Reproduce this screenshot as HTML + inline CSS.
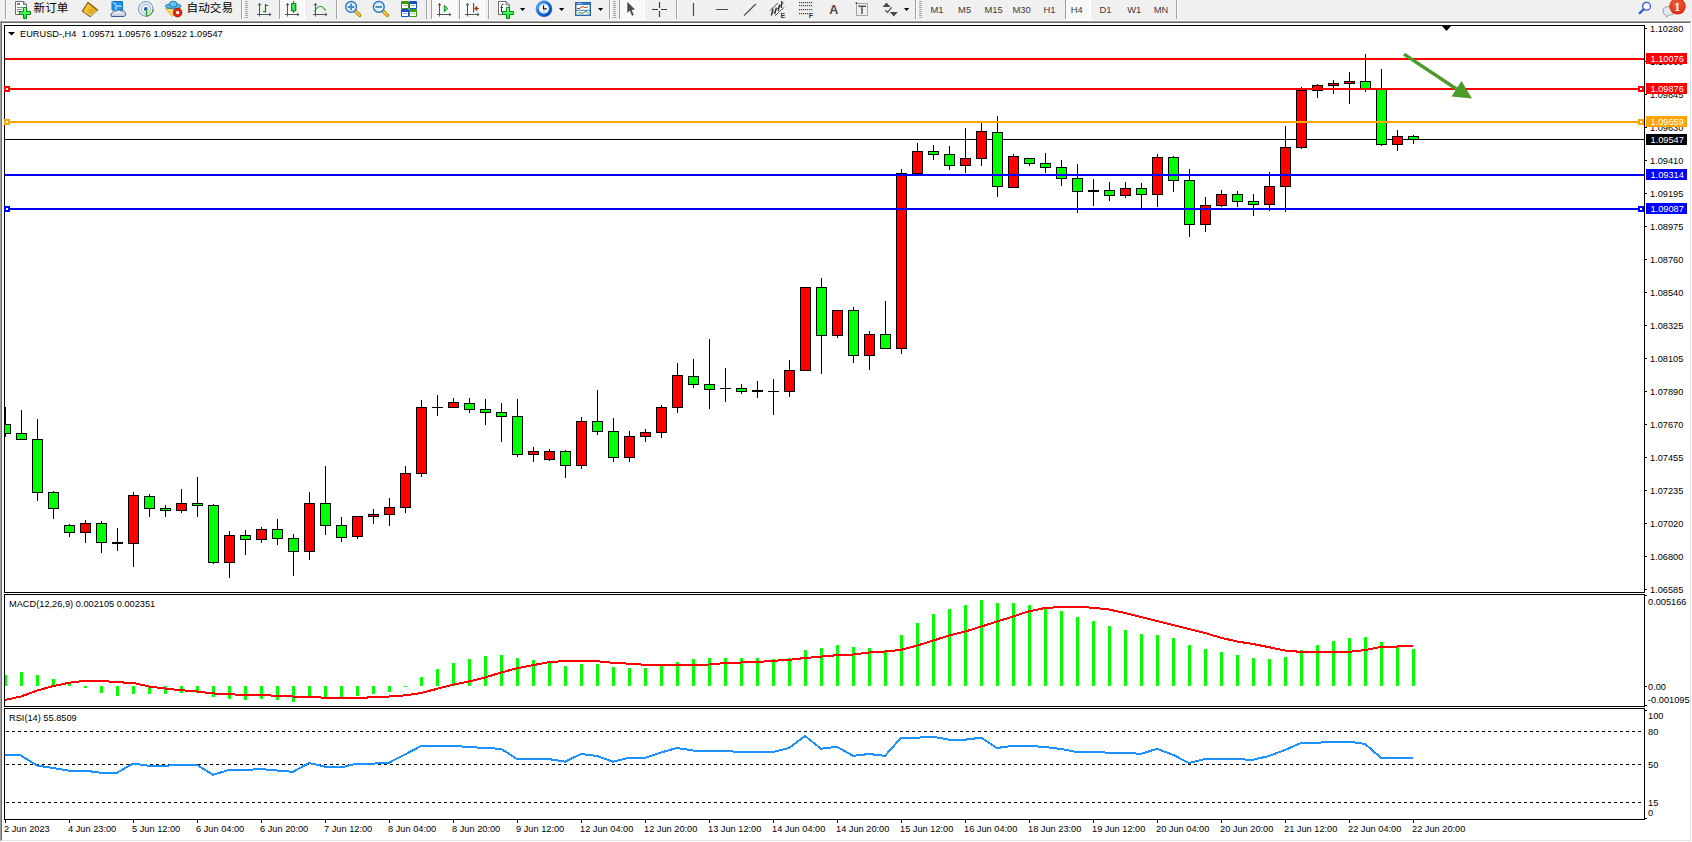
<!DOCTYPE html><html><head><meta charset="utf-8"><title>EURUSD-,H4</title><style>
html,body{margin:0;padding:0;width:1692px;height:842px;overflow:hidden;background:#f0f0f0}
svg{display:block}
.t{font-family:'Liberation Sans', Arial, sans-serif;font-size:9.9px;fill:#000}
.w{font-family:'Liberation Sans', Arial, sans-serif;font-size:9.9px;fill:#fff}
.tf{font-family:'Liberation Sans', Arial, sans-serif;font-size:9.4px;fill:#3a3a3a}
.cj{font-family:'Liberation Sans','Noto Sans CJK SC','WenQuanYi Zen Hei',sans-serif;font-size:11.6px;fill:#000}
</style></head><body>
<svg width="1692" height="842" viewBox="0 0 1692 842">
<g shape-rendering="crispEdges"><rect x="0" y="0" width="1692" height="842" fill="#f0f0f0"/><rect x="2" y="23" width="1688" height="817" fill="#fff"/><rect x="0" y="21" width="1691" height="1" fill="#a0a0a0"/><rect x="1" y="22" width="1689" height="1" fill="#696969"/><rect x="0" y="21" width="1" height="820" fill="#a0a0a0"/><rect x="1" y="22" width="1" height="818" fill="#696969"/><rect x="1690" y="22" width="1" height="819" fill="#e3e3e3"/><rect x="1" y="840" width="1690" height="1" fill="#e3e3e3"/><rect x="1691" y="21" width="1" height="821" fill="#fff"/><rect x="0" y="841" width="1692" height="1" fill="#fff"/><rect x="0" y="20" width="1691" height="1" fill="#f8f8f8"/></g>
<g shape-rendering="crispEdges"><rect x="4" y="25" width="1641" height="1" fill="#000"/><rect x="4" y="592" width="1641" height="1" fill="#000"/><rect x="4" y="25" width="1" height="568" fill="#000"/><rect x="1644" y="25" width="1" height="568" fill="#000"/><rect x="4" y="594" width="1641" height="1" fill="#000"/><rect x="4" y="706" width="1641" height="1" fill="#000"/><rect x="4" y="594" width="1" height="113" fill="#000"/><rect x="1644" y="594" width="1" height="113" fill="#000"/><rect x="4" y="708" width="1641" height="1" fill="#000"/><rect x="4" y="819" width="1641" height="1" fill="#000"/><rect x="4" y="708" width="1" height="112" fill="#000"/><rect x="1644" y="708" width="1" height="112" fill="#000"/><rect x="1645" y="28" width="2" height="1" fill="#000"/><rect x="1645" y="61" width="2" height="1" fill="#000"/><rect x="1645" y="94" width="2" height="1" fill="#000"/><rect x="1645" y="127" width="2" height="1" fill="#000"/><rect x="1645" y="160" width="2" height="1" fill="#000"/><rect x="1645" y="193" width="2" height="1" fill="#000"/><rect x="1645" y="226" width="2" height="1" fill="#000"/><rect x="1645" y="259" width="2" height="1" fill="#000"/><rect x="1645" y="292" width="2" height="1" fill="#000"/><rect x="1645" y="325" width="2" height="1" fill="#000"/><rect x="1645" y="358" width="2" height="1" fill="#000"/><rect x="1645" y="391" width="2" height="1" fill="#000"/><rect x="1645" y="424" width="2" height="1" fill="#000"/><rect x="1645" y="457" width="2" height="1" fill="#000"/><rect x="1645" y="490" width="2" height="1" fill="#000"/><rect x="1645" y="523" width="2" height="1" fill="#000"/><rect x="1645" y="556" width="2" height="1" fill="#000"/><rect x="1645" y="589" width="2" height="1" fill="#000"/><rect x="1645" y="686" width="2" height="1" fill="#000"/><rect x="1645" y="595" width="2" height="1" fill="#000"/><rect x="1645" y="705" width="2" height="1" fill="#000"/><rect x="1645" y="710" width="2" height="1" fill="#000"/><rect x="1645" y="818" width="2" height="1" fill="#000"/><rect x="5" y="820" width="1" height="3" fill="#000"/><rect x="69" y="820" width="1" height="3" fill="#000"/><rect x="133" y="820" width="1" height="3" fill="#000"/><rect x="197" y="820" width="1" height="3" fill="#000"/><rect x="261" y="820" width="1" height="3" fill="#000"/><rect x="325" y="820" width="1" height="3" fill="#000"/><rect x="389" y="820" width="1" height="3" fill="#000"/><rect x="453" y="820" width="1" height="3" fill="#000"/><rect x="517" y="820" width="1" height="3" fill="#000"/><rect x="581" y="820" width="1" height="3" fill="#000"/><rect x="645" y="820" width="1" height="3" fill="#000"/><rect x="709" y="820" width="1" height="3" fill="#000"/><rect x="773" y="820" width="1" height="3" fill="#000"/><rect x="837" y="820" width="1" height="3" fill="#000"/><rect x="901" y="820" width="1" height="3" fill="#000"/><rect x="965" y="820" width="1" height="3" fill="#000"/><rect x="1029" y="820" width="1" height="3" fill="#000"/><rect x="1093" y="820" width="1" height="3" fill="#000"/><rect x="1157" y="820" width="1" height="3" fill="#000"/><rect x="1221" y="820" width="1" height="3" fill="#000"/><rect x="1285" y="820" width="1" height="3" fill="#000"/><rect x="1349" y="820" width="1" height="3" fill="#000"/><rect x="1413" y="820" width="1" height="3" fill="#000"/></g>
<g shape-rendering="crispEdges"><rect x="5" y="139" width="1639" height="1" fill="#000000"/></g>
<svg x="5" y="26" width="1639" height="566" viewBox="5 26 1639 566" overflow="hidden"><g shape-rendering="crispEdges"><rect x="5" y="407" width="1" height="30" fill="#000"/><rect x="0" y="424" width="11" height="10" fill="#000"/><rect x="1" y="425" width="9" height="8" fill="#00ff00"/><rect x="21" y="410" width="1" height="30" fill="#000"/><rect x="16" y="433" width="11" height="7" fill="#000"/><rect x="17" y="434" width="9" height="5" fill="#00ff00"/><rect x="37" y="419" width="1" height="82" fill="#000"/><rect x="32" y="439" width="11" height="54" fill="#000"/><rect x="33" y="440" width="9" height="52" fill="#00ff00"/><rect x="53" y="491" width="1" height="28" fill="#000"/><rect x="48" y="492" width="11" height="17" fill="#000"/><rect x="49" y="493" width="9" height="15" fill="#00ff00"/><rect x="69" y="524" width="1" height="13" fill="#000"/><rect x="64" y="525" width="11" height="8" fill="#000"/><rect x="65" y="526" width="9" height="6" fill="#00ff00"/><rect x="85" y="520" width="1" height="23" fill="#000"/><rect x="80" y="523" width="11" height="10" fill="#000"/><rect x="81" y="524" width="9" height="8" fill="#ff0000"/><rect x="101" y="521" width="1" height="32" fill="#000"/><rect x="96" y="523" width="11" height="20" fill="#000"/><rect x="97" y="524" width="9" height="18" fill="#00ff00"/><rect x="117" y="528" width="1" height="23" fill="#000"/><rect x="112" y="542" width="11" height="2" fill="#000"/><rect x="133" y="492" width="1" height="75" fill="#000"/><rect x="128" y="495" width="11" height="49" fill="#000"/><rect x="129" y="496" width="9" height="47" fill="#ff0000"/><rect x="149" y="494" width="1" height="23" fill="#000"/><rect x="144" y="496" width="11" height="13" fill="#000"/><rect x="145" y="497" width="9" height="11" fill="#00ff00"/><rect x="165" y="505" width="1" height="12" fill="#000"/><rect x="160" y="508" width="11" height="3" fill="#000"/><rect x="161" y="509" width="9" height="1" fill="#00ff00"/><rect x="181" y="489" width="1" height="24" fill="#000"/><rect x="176" y="503" width="11" height="8" fill="#000"/><rect x="177" y="504" width="9" height="6" fill="#ff0000"/><rect x="197" y="477" width="1" height="40" fill="#000"/><rect x="192" y="503" width="11" height="3" fill="#000"/><rect x="193" y="504" width="9" height="1" fill="#00ff00"/><rect x="213" y="504" width="1" height="60" fill="#000"/><rect x="208" y="505" width="11" height="58" fill="#000"/><rect x="209" y="506" width="9" height="56" fill="#00ff00"/><rect x="229" y="531" width="1" height="47" fill="#000"/><rect x="224" y="535" width="11" height="28" fill="#000"/><rect x="225" y="536" width="9" height="26" fill="#ff0000"/><rect x="245" y="530" width="1" height="25" fill="#000"/><rect x="240" y="535" width="11" height="5" fill="#000"/><rect x="241" y="536" width="9" height="3" fill="#00ff00"/><rect x="261" y="527" width="1" height="16" fill="#000"/><rect x="256" y="529" width="11" height="11" fill="#000"/><rect x="257" y="530" width="9" height="9" fill="#ff0000"/><rect x="277" y="519" width="1" height="26" fill="#000"/><rect x="272" y="529" width="11" height="10" fill="#000"/><rect x="273" y="530" width="9" height="8" fill="#00ff00"/><rect x="293" y="534" width="1" height="42" fill="#000"/><rect x="288" y="538" width="11" height="14" fill="#000"/><rect x="289" y="539" width="9" height="12" fill="#00ff00"/><rect x="309" y="492" width="1" height="68" fill="#000"/><rect x="304" y="503" width="11" height="49" fill="#000"/><rect x="305" y="504" width="9" height="47" fill="#ff0000"/><rect x="325" y="466" width="1" height="69" fill="#000"/><rect x="320" y="503" width="11" height="23" fill="#000"/><rect x="321" y="504" width="9" height="21" fill="#00ff00"/><rect x="341" y="517" width="1" height="25" fill="#000"/><rect x="336" y="525" width="11" height="13" fill="#000"/><rect x="337" y="526" width="9" height="11" fill="#00ff00"/><rect x="357" y="516" width="1" height="23" fill="#000"/><rect x="352" y="516" width="11" height="21" fill="#000"/><rect x="353" y="517" width="9" height="19" fill="#ff0000"/><rect x="373" y="509" width="1" height="15" fill="#000"/><rect x="368" y="514" width="11" height="3" fill="#000"/><rect x="369" y="515" width="9" height="1" fill="#ff0000"/><rect x="389" y="498" width="1" height="28" fill="#000"/><rect x="384" y="507" width="11" height="8" fill="#000"/><rect x="385" y="508" width="9" height="6" fill="#ff0000"/><rect x="405" y="466" width="1" height="47" fill="#000"/><rect x="400" y="473" width="11" height="35" fill="#000"/><rect x="401" y="474" width="9" height="33" fill="#ff0000"/><rect x="421" y="400" width="1" height="77" fill="#000"/><rect x="416" y="407" width="11" height="67" fill="#000"/><rect x="417" y="408" width="9" height="65" fill="#ff0000"/><rect x="437" y="395" width="1" height="21" fill="#000"/><rect x="432" y="407" width="11" height="1" fill="#000"/><rect x="453" y="398" width="1" height="10" fill="#000"/><rect x="448" y="402" width="11" height="6" fill="#000"/><rect x="449" y="403" width="9" height="4" fill="#ff0000"/><rect x="469" y="398" width="1" height="15" fill="#000"/><rect x="464" y="403" width="11" height="7" fill="#000"/><rect x="465" y="404" width="9" height="5" fill="#00ff00"/><rect x="485" y="399" width="1" height="26" fill="#000"/><rect x="480" y="409" width="11" height="4" fill="#000"/><rect x="481" y="410" width="9" height="2" fill="#00ff00"/><rect x="501" y="403" width="1" height="39" fill="#000"/><rect x="496" y="412" width="11" height="5" fill="#000"/><rect x="497" y="413" width="9" height="3" fill="#00ff00"/><rect x="517" y="399" width="1" height="58" fill="#000"/><rect x="512" y="416" width="11" height="39" fill="#000"/><rect x="513" y="417" width="9" height="37" fill="#00ff00"/><rect x="533" y="447" width="1" height="15" fill="#000"/><rect x="528" y="451" width="11" height="4" fill="#000"/><rect x="529" y="452" width="9" height="2" fill="#ff0000"/><rect x="549" y="449" width="1" height="12" fill="#000"/><rect x="544" y="451" width="11" height="9" fill="#000"/><rect x="545" y="452" width="9" height="7" fill="#ff0000"/><rect x="565" y="450" width="1" height="28" fill="#000"/><rect x="560" y="451" width="11" height="15" fill="#000"/><rect x="561" y="452" width="9" height="13" fill="#00ff00"/><rect x="581" y="417" width="1" height="52" fill="#000"/><rect x="576" y="421" width="11" height="45" fill="#000"/><rect x="577" y="422" width="9" height="43" fill="#ff0000"/><rect x="597" y="390" width="1" height="45" fill="#000"/><rect x="592" y="421" width="11" height="11" fill="#000"/><rect x="593" y="422" width="9" height="9" fill="#00ff00"/><rect x="613" y="418" width="1" height="44" fill="#000"/><rect x="608" y="431" width="11" height="27" fill="#000"/><rect x="609" y="432" width="9" height="25" fill="#00ff00"/><rect x="629" y="431" width="1" height="31" fill="#000"/><rect x="624" y="436" width="11" height="22" fill="#000"/><rect x="625" y="437" width="9" height="20" fill="#ff0000"/><rect x="645" y="429" width="1" height="13" fill="#000"/><rect x="640" y="432" width="11" height="5" fill="#000"/><rect x="641" y="433" width="9" height="3" fill="#ff0000"/><rect x="661" y="405" width="1" height="33" fill="#000"/><rect x="656" y="407" width="11" height="26" fill="#000"/><rect x="657" y="408" width="9" height="24" fill="#ff0000"/><rect x="677" y="363" width="1" height="50" fill="#000"/><rect x="672" y="375" width="11" height="33" fill="#000"/><rect x="673" y="376" width="9" height="31" fill="#ff0000"/><rect x="693" y="359" width="1" height="29" fill="#000"/><rect x="688" y="376" width="11" height="9" fill="#000"/><rect x="689" y="377" width="9" height="7" fill="#00ff00"/><rect x="709" y="339" width="1" height="70" fill="#000"/><rect x="704" y="384" width="11" height="6" fill="#000"/><rect x="705" y="385" width="9" height="4" fill="#00ff00"/><rect x="725" y="368" width="1" height="34" fill="#000"/><rect x="720" y="388" width="11" height="1" fill="#000"/><rect x="741" y="384" width="1" height="10" fill="#000"/><rect x="736" y="388" width="11" height="4" fill="#000"/><rect x="737" y="389" width="9" height="2" fill="#00ff00"/><rect x="757" y="381" width="1" height="17" fill="#000"/><rect x="752" y="390" width="11" height="2" fill="#000"/><rect x="773" y="379" width="1" height="36" fill="#000"/><rect x="768" y="391" width="11" height="1" fill="#000"/><rect x="789" y="360" width="1" height="37" fill="#000"/><rect x="784" y="370" width="11" height="22" fill="#000"/><rect x="785" y="371" width="9" height="20" fill="#ff0000"/><rect x="805" y="287" width="1" height="84" fill="#000"/><rect x="800" y="287" width="11" height="84" fill="#000"/><rect x="801" y="288" width="9" height="82" fill="#ff0000"/><rect x="821" y="278" width="1" height="96" fill="#000"/><rect x="816" y="287" width="11" height="49" fill="#000"/><rect x="817" y="288" width="9" height="47" fill="#00ff00"/><rect x="837" y="310" width="1" height="28" fill="#000"/><rect x="832" y="310" width="11" height="26" fill="#000"/><rect x="833" y="311" width="9" height="24" fill="#ff0000"/><rect x="853" y="307" width="1" height="56" fill="#000"/><rect x="848" y="310" width="11" height="46" fill="#000"/><rect x="849" y="311" width="9" height="44" fill="#00ff00"/><rect x="869" y="331" width="1" height="39" fill="#000"/><rect x="864" y="334" width="11" height="22" fill="#000"/><rect x="865" y="335" width="9" height="20" fill="#ff0000"/><rect x="885" y="301" width="1" height="48" fill="#000"/><rect x="880" y="334" width="11" height="15" fill="#000"/><rect x="881" y="335" width="9" height="13" fill="#00ff00"/><rect x="901" y="169" width="1" height="185" fill="#000"/><rect x="896" y="173" width="11" height="176" fill="#000"/><rect x="897" y="174" width="9" height="174" fill="#ff0000"/><rect x="917" y="143" width="1" height="31" fill="#000"/><rect x="912" y="151" width="11" height="23" fill="#000"/><rect x="913" y="152" width="9" height="21" fill="#ff0000"/><rect x="933" y="145" width="1" height="15" fill="#000"/><rect x="928" y="151" width="11" height="4" fill="#000"/><rect x="929" y="152" width="9" height="2" fill="#00ff00"/><rect x="949" y="146" width="1" height="24" fill="#000"/><rect x="944" y="154" width="11" height="12" fill="#000"/><rect x="945" y="155" width="9" height="10" fill="#00ff00"/><rect x="965" y="128" width="1" height="45" fill="#000"/><rect x="960" y="158" width="11" height="8" fill="#000"/><rect x="961" y="159" width="9" height="6" fill="#ff0000"/><rect x="981" y="122" width="1" height="44" fill="#000"/><rect x="976" y="131" width="11" height="28" fill="#000"/><rect x="977" y="132" width="9" height="26" fill="#ff0000"/><rect x="997" y="116" width="1" height="81" fill="#000"/><rect x="992" y="132" width="11" height="55" fill="#000"/><rect x="993" y="133" width="9" height="53" fill="#00ff00"/><rect x="1013" y="154" width="1" height="34" fill="#000"/><rect x="1008" y="156" width="11" height="32" fill="#000"/><rect x="1009" y="157" width="9" height="30" fill="#ff0000"/><rect x="1029" y="158" width="1" height="8" fill="#000"/><rect x="1024" y="158" width="11" height="6" fill="#000"/><rect x="1025" y="159" width="9" height="4" fill="#00ff00"/><rect x="1045" y="153" width="1" height="20" fill="#000"/><rect x="1040" y="163" width="11" height="5" fill="#000"/><rect x="1041" y="164" width="9" height="3" fill="#00ff00"/><rect x="1061" y="160" width="1" height="26" fill="#000"/><rect x="1056" y="167" width="11" height="12" fill="#000"/><rect x="1057" y="168" width="9" height="10" fill="#00ff00"/><rect x="1077" y="164" width="1" height="49" fill="#000"/><rect x="1072" y="178" width="11" height="14" fill="#000"/><rect x="1073" y="179" width="9" height="12" fill="#00ff00"/><rect x="1093" y="179" width="1" height="27" fill="#000"/><rect x="1088" y="190" width="11" height="2" fill="#000"/><rect x="1109" y="182" width="1" height="19" fill="#000"/><rect x="1104" y="190" width="11" height="6" fill="#000"/><rect x="1105" y="191" width="9" height="4" fill="#00ff00"/><rect x="1125" y="182" width="1" height="16" fill="#000"/><rect x="1120" y="188" width="11" height="8" fill="#000"/><rect x="1121" y="189" width="9" height="6" fill="#ff0000"/><rect x="1141" y="183" width="1" height="26" fill="#000"/><rect x="1136" y="188" width="11" height="7" fill="#000"/><rect x="1137" y="189" width="9" height="5" fill="#00ff00"/><rect x="1157" y="154" width="1" height="53" fill="#000"/><rect x="1152" y="157" width="11" height="38" fill="#000"/><rect x="1153" y="158" width="9" height="36" fill="#ff0000"/><rect x="1173" y="156" width="1" height="36" fill="#000"/><rect x="1168" y="157" width="11" height="24" fill="#000"/><rect x="1169" y="158" width="9" height="22" fill="#00ff00"/><rect x="1189" y="169" width="1" height="68" fill="#000"/><rect x="1184" y="180" width="11" height="45" fill="#000"/><rect x="1185" y="181" width="9" height="43" fill="#00ff00"/><rect x="1205" y="197" width="1" height="35" fill="#000"/><rect x="1200" y="205" width="11" height="20" fill="#000"/><rect x="1201" y="206" width="9" height="18" fill="#ff0000"/><rect x="1221" y="190" width="1" height="17" fill="#000"/><rect x="1216" y="194" width="11" height="12" fill="#000"/><rect x="1217" y="195" width="9" height="10" fill="#ff0000"/><rect x="1237" y="191" width="1" height="16" fill="#000"/><rect x="1232" y="194" width="11" height="8" fill="#000"/><rect x="1233" y="195" width="9" height="6" fill="#00ff00"/><rect x="1253" y="194" width="1" height="22" fill="#000"/><rect x="1248" y="201" width="11" height="4" fill="#000"/><rect x="1249" y="202" width="9" height="2" fill="#00ff00"/><rect x="1269" y="172" width="1" height="39" fill="#000"/><rect x="1264" y="186" width="11" height="19" fill="#000"/><rect x="1265" y="187" width="9" height="17" fill="#ff0000"/><rect x="1285" y="126" width="1" height="86" fill="#000"/><rect x="1280" y="147" width="11" height="40" fill="#000"/><rect x="1281" y="148" width="9" height="38" fill="#ff0000"/><rect x="1301" y="87" width="1" height="62" fill="#000"/><rect x="1296" y="90" width="11" height="58" fill="#000"/><rect x="1297" y="91" width="9" height="56" fill="#ff0000"/><rect x="1317" y="84" width="1" height="14" fill="#000"/><rect x="1312" y="85" width="11" height="6" fill="#000"/><rect x="1313" y="86" width="9" height="4" fill="#ff0000"/><rect x="1333" y="80" width="1" height="14" fill="#000"/><rect x="1328" y="83" width="11" height="3" fill="#000"/><rect x="1329" y="84" width="9" height="1" fill="#ff0000"/><rect x="1349" y="72" width="1" height="32" fill="#000"/><rect x="1344" y="81" width="11" height="3" fill="#000"/><rect x="1345" y="82" width="9" height="1" fill="#ff0000"/><rect x="1365" y="54" width="1" height="38" fill="#000"/><rect x="1360" y="81" width="11" height="8" fill="#000"/><rect x="1361" y="82" width="9" height="6" fill="#00ff00"/><rect x="1381" y="69" width="1" height="77" fill="#000"/><rect x="1376" y="89" width="11" height="56" fill="#000"/><rect x="1377" y="90" width="9" height="54" fill="#00ff00"/><rect x="1397" y="130" width="1" height="21" fill="#000"/><rect x="1392" y="136" width="11" height="9" fill="#000"/><rect x="1393" y="137" width="9" height="7" fill="#ff0000"/><rect x="1413" y="135" width="1" height="9" fill="#000"/><rect x="1408" y="136" width="11" height="4" fill="#000"/><rect x="1409" y="137" width="9" height="2" fill="#00ff00"/></g></svg>
<g shape-rendering="crispEdges"><rect x="5" y="58" width="1639" height="2" fill="#ff0000"/><rect x="5" y="88" width="1639" height="2" fill="#ff0000"/><rect x="5" y="121" width="1639" height="2" fill="#ffa500"/><rect x="5" y="174" width="1639" height="2" fill="#0000ff"/><rect x="5" y="208" width="1639" height="2" fill="#0000ff"/><rect x="4" y="86" width="6" height="6" fill="#ff0000"/><rect x="6" y="88" width="2" height="2" fill="#fff"/><rect x="1638" y="86" width="6" height="6" fill="#ff0000"/><rect x="1640" y="88" width="2" height="2" fill="#fff"/><rect x="4" y="119" width="6" height="6" fill="#ffa500"/><rect x="6" y="121" width="2" height="2" fill="#fff"/><rect x="1638" y="119" width="6" height="6" fill="#ffa500"/><rect x="1640" y="121" width="2" height="2" fill="#fff"/><rect x="4" y="206" width="6" height="6" fill="#0000ff"/><rect x="6" y="208" width="2" height="2" fill="#fff"/><rect x="1638" y="206" width="6" height="6" fill="#0000ff"/><rect x="1640" y="208" width="2" height="2" fill="#fff"/></g>
<polygon points="1442,26 1451,26 1446.5,31" fill="#000"/>
<line x1="1404" y1="54.2" x2="1461" y2="92" stroke="#4c9a2a" stroke-width="3.3"/><polygon points="1461.5,81 1472,98.5 1451.5,96.5" fill="#4c9a2a"/>
<text class="t" transform="translate(1650.00 32.00) scale(0.934 1)">1.10280</text><text class="t" transform="translate(1650.00 65.00) scale(0.934 1)">1.10060</text><text class="t" transform="translate(1650.00 98.00) scale(0.934 1)">1.09845</text><text class="t" transform="translate(1650.00 131.00) scale(0.934 1)">1.09630</text><text class="t" transform="translate(1650.00 164.00) scale(0.934 1)">1.09410</text><text class="t" transform="translate(1650.00 197.00) scale(0.934 1)">1.09195</text><text class="t" transform="translate(1650.00 230.00) scale(0.934 1)">1.08975</text><text class="t" transform="translate(1650.00 263.00) scale(0.934 1)">1.08760</text><text class="t" transform="translate(1650.00 296.00) scale(0.934 1)">1.08540</text><text class="t" transform="translate(1650.00 329.00) scale(0.934 1)">1.08325</text><text class="t" transform="translate(1650.00 362.00) scale(0.934 1)">1.08105</text><text class="t" transform="translate(1650.00 395.00) scale(0.934 1)">1.07890</text><text class="t" transform="translate(1650.00 428.00) scale(0.934 1)">1.07670</text><text class="t" transform="translate(1650.00 461.00) scale(0.934 1)">1.07455</text><text class="t" transform="translate(1650.00 494.00) scale(0.934 1)">1.07235</text><text class="t" transform="translate(1650.00 527.00) scale(0.934 1)">1.07020</text><text class="t" transform="translate(1650.00 560.00) scale(0.934 1)">1.06800</text><text class="t" transform="translate(1650.00 593.00) scale(0.934 1)">1.06585</text><rect x="1646" y="53" width="41" height="11" fill="#ff0000" shape-rendering="crispEdges"/><text class="w" transform="translate(1650.50 62.00) scale(0.934 1)">1.10076</text><rect x="1646" y="83" width="41" height="11" fill="#ff0000" shape-rendering="crispEdges"/><text class="w" transform="translate(1650.50 92.00) scale(0.934 1)">1.09876</text><rect x="1646" y="116" width="41" height="11" fill="#ffa500" shape-rendering="crispEdges"/><text class="w" transform="translate(1650.50 125.00) scale(0.934 1)">1.09659</text><rect x="1646" y="134" width="41" height="11" fill="#000000" shape-rendering="crispEdges"/><text class="w" transform="translate(1650.50 143.00) scale(0.934 1)">1.09547</text><rect x="1646" y="169" width="41" height="11" fill="#0000ff" shape-rendering="crispEdges"/><text class="w" transform="translate(1650.50 178.00) scale(0.934 1)">1.09314</text><rect x="1646" y="203" width="41" height="11" fill="#0000ff" shape-rendering="crispEdges"/><text class="w" transform="translate(1650.50 212.00) scale(0.934 1)">1.09087</text><text class="t" transform="translate(1648.00 605.00) scale(0.934 1)">0.005166</text><text class="t" transform="translate(1648.00 690.00) scale(0.934 1)">0.00</text><text class="t" transform="translate(1648.00 703.00) scale(0.934 1)">-0.001095</text><text class="t" transform="translate(1648.00 719.00) scale(0.934 1)">100</text><text class="t" transform="translate(1648.00 735.00) scale(0.934 1)">80</text><text class="t" transform="translate(1648.00 768.00) scale(0.934 1)">50</text><text class="t" transform="translate(1648.00 806.00) scale(0.934 1)">15</text><text class="t" transform="translate(1648.00 816.00) scale(0.934 1)">0</text>
<polygon points="8,32 15,32 11.5,35.5" fill="#000"/>
<text class="t" transform="translate(20.00 37.00) scale(0.934 1)" style="white-space:pre" xml:space="preserve">EURUSD-,H4  1.09571 1.09576 1.09522 1.09547</text>
<text class="t" transform="translate(9.00 607.00) scale(0.934 1)">MACD(12,26,9) 0.002105 0.002351</text>
<text class="t" transform="translate(9.00 721.00) scale(0.934 1)">RSI(14) 55.8509</text>
<svg x="5" y="595" width="1639" height="111" viewBox="5 595 1639 111" overflow="hidden"><g shape-rendering="crispEdges"><rect x="4" y="675" width="3" height="11" fill="#00ff00"/><rect x="20" y="672" width="3" height="14" fill="#00ff00"/><rect x="36" y="675" width="3" height="11" fill="#00ff00"/><rect x="52" y="679" width="3" height="7" fill="#00ff00"/><rect x="68" y="684" width="3" height="2" fill="#00ff00"/><rect x="84" y="686" width="3" height="2" fill="#00ff00"/><rect x="100" y="686" width="3" height="7" fill="#00ff00"/><rect x="116" y="686" width="3" height="10" fill="#00ff00"/><rect x="132" y="686" width="3" height="8" fill="#00ff00"/><rect x="148" y="686" width="3" height="8" fill="#00ff00"/><rect x="164" y="686" width="3" height="8" fill="#00ff00"/><rect x="180" y="686" width="3" height="7" fill="#00ff00"/><rect x="196" y="686" width="3" height="7" fill="#00ff00"/><rect x="212" y="686" width="3" height="11" fill="#00ff00"/><rect x="228" y="686" width="3" height="13" fill="#00ff00"/><rect x="244" y="686" width="3" height="14" fill="#00ff00"/><rect x="260" y="686" width="3" height="13" fill="#00ff00"/><rect x="276" y="686" width="3" height="14" fill="#00ff00"/><rect x="292" y="686" width="3" height="16" fill="#00ff00"/><rect x="308" y="686" width="3" height="10" fill="#00ff00"/><rect x="324" y="686" width="3" height="11" fill="#00ff00"/><rect x="340" y="686" width="3" height="11" fill="#00ff00"/><rect x="356" y="686" width="3" height="10" fill="#00ff00"/><rect x="372" y="686" width="3" height="8" fill="#00ff00"/><rect x="388" y="686" width="3" height="6" fill="#00ff00"/><rect x="404" y="686" width="3" height="1" fill="#00ff00"/><rect x="420" y="677" width="3" height="9" fill="#00ff00"/><rect x="436" y="669" width="3" height="17" fill="#00ff00"/><rect x="452" y="663" width="3" height="23" fill="#00ff00"/><rect x="468" y="659" width="3" height="27" fill="#00ff00"/><rect x="484" y="656" width="3" height="30" fill="#00ff00"/><rect x="500" y="655" width="3" height="31" fill="#00ff00"/><rect x="516" y="658" width="3" height="28" fill="#00ff00"/><rect x="532" y="660" width="3" height="26" fill="#00ff00"/><rect x="548" y="662" width="3" height="24" fill="#00ff00"/><rect x="564" y="666" width="3" height="20" fill="#00ff00"/><rect x="580" y="664" width="3" height="22" fill="#00ff00"/><rect x="596" y="664" width="3" height="22" fill="#00ff00"/><rect x="612" y="667" width="3" height="19" fill="#00ff00"/><rect x="628" y="668" width="3" height="18" fill="#00ff00"/><rect x="644" y="668" width="3" height="18" fill="#00ff00"/><rect x="660" y="665" width="3" height="21" fill="#00ff00"/><rect x="676" y="662" width="3" height="24" fill="#00ff00"/><rect x="692" y="659" width="3" height="27" fill="#00ff00"/><rect x="708" y="658" width="3" height="28" fill="#00ff00"/><rect x="724" y="658" width="3" height="28" fill="#00ff00"/><rect x="740" y="658" width="3" height="28" fill="#00ff00"/><rect x="756" y="658" width="3" height="28" fill="#00ff00"/><rect x="772" y="659" width="3" height="27" fill="#00ff00"/><rect x="788" y="658" width="3" height="28" fill="#00ff00"/><rect x="804" y="650" width="3" height="36" fill="#00ff00"/><rect x="820" y="648" width="3" height="38" fill="#00ff00"/><rect x="836" y="645" width="3" height="41" fill="#00ff00"/><rect x="852" y="647" width="3" height="39" fill="#00ff00"/><rect x="868" y="648" width="3" height="38" fill="#00ff00"/><rect x="884" y="650" width="3" height="36" fill="#00ff00"/><rect x="900" y="635" width="3" height="51" fill="#00ff00"/><rect x="916" y="623" width="3" height="63" fill="#00ff00"/><rect x="932" y="614" width="3" height="72" fill="#00ff00"/><rect x="948" y="609" width="3" height="77" fill="#00ff00"/><rect x="964" y="605" width="3" height="81" fill="#00ff00"/><rect x="980" y="600" width="3" height="86" fill="#00ff00"/><rect x="996" y="603" width="3" height="83" fill="#00ff00"/><rect x="1012" y="603" width="3" height="83" fill="#00ff00"/><rect x="1028" y="605" width="3" height="81" fill="#00ff00"/><rect x="1044" y="607" width="3" height="79" fill="#00ff00"/><rect x="1060" y="611" width="3" height="75" fill="#00ff00"/><rect x="1076" y="617" width="3" height="69" fill="#00ff00"/><rect x="1092" y="621" width="3" height="65" fill="#00ff00"/><rect x="1108" y="626" width="3" height="60" fill="#00ff00"/><rect x="1124" y="630" width="3" height="56" fill="#00ff00"/><rect x="1140" y="634" width="3" height="52" fill="#00ff00"/><rect x="1156" y="635" width="3" height="51" fill="#00ff00"/><rect x="1172" y="638" width="3" height="48" fill="#00ff00"/><rect x="1188" y="645" width="3" height="41" fill="#00ff00"/><rect x="1204" y="649" width="3" height="37" fill="#00ff00"/><rect x="1220" y="652" width="3" height="34" fill="#00ff00"/><rect x="1236" y="655" width="3" height="31" fill="#00ff00"/><rect x="1252" y="658" width="3" height="28" fill="#00ff00"/><rect x="1268" y="659" width="3" height="27" fill="#00ff00"/><rect x="1284" y="657" width="3" height="29" fill="#00ff00"/><rect x="1300" y="650" width="3" height="36" fill="#00ff00"/><rect x="1316" y="645" width="3" height="41" fill="#00ff00"/><rect x="1332" y="641" width="3" height="45" fill="#00ff00"/><rect x="1348" y="638" width="3" height="48" fill="#00ff00"/><rect x="1364" y="637" width="3" height="49" fill="#00ff00"/><rect x="1380" y="642" width="3" height="44" fill="#00ff00"/><rect x="1396" y="646" width="3" height="40" fill="#00ff00"/><rect x="1412" y="649" width="3" height="37" fill="#00ff00"/></g><polyline points="5,700.0 21,696.5 37,690.6 53,686.1 69,682.8 85,680.8 101,680.8 117,682.3 133,682.8 149,686.5 165,688.5 181,690.2 197,691.5 213,693.4 229,694.4 245,694.7 261,695.0 277,695.8 293,696.5 309,697.0 325,697.7 341,697.8 357,697.9 373,697.3 389,696.5 405,695.4 421,693.1 437,688.8 453,684.8 469,681.4 485,677.5 501,672.5 517,668.2 533,665.2 549,662.1 565,661.0 581,661.0 597,661.2 613,662.8 629,663.7 645,664.8 661,664.8 677,664.8 693,664.8 709,664.5 725,663.0 741,662.5 757,662.1 773,660.8 789,659.8 805,658.0 821,656.6 837,655.2 853,654.5 869,652.5 885,651.5 901,649.9 917,645.6 933,640.6 949,635.5 965,631.6 981,626.6 997,621.5 1013,616.6 1029,611.3 1045,608.0 1061,607.0 1077,607.0 1093,607.7 1109,609.5 1125,613.0 1141,617.0 1157,621.0 1173,624.9 1189,629.0 1205,633.0 1221,637.8 1237,641.5 1253,644.0 1269,647.2 1285,650.5 1301,651.9 1317,651.9 1333,651.9 1349,651.9 1365,650.0 1381,647.0 1397,646.5 1413,645.6" fill="none" stroke="#ff0000" stroke-width="2" shape-rendering="crispEdges"/></svg>
<svg x="5" y="709" width="1639" height="110" viewBox="5 709 1639 110" overflow="hidden"><line x1="6" y1="731.5" x2="1643" y2="731.5" stroke="#000" stroke-width="1" stroke-dasharray="3 3" shape-rendering="crispEdges"/><line x1="6" y1="764.5" x2="1643" y2="764.5" stroke="#000" stroke-width="1" stroke-dasharray="3 3" shape-rendering="crispEdges"/><line x1="6" y1="802.5" x2="1643" y2="802.5" stroke="#000" stroke-width="1" stroke-dasharray="3 3" shape-rendering="crispEdges"/><polyline points="5,755.0 21,755.5 37,765.5 53,768.0 69,770.7 85,770.7 101,772.7 117,772.7 133,763.6 149,765.8 165,765.8 181,764.6 197,765.0 213,774.8 229,770.0 245,770.0 261,769.0 277,770.5 293,771.8 309,763.0 325,766.6 341,767.5 357,763.6 373,763.6 389,762.7 405,754.5 421,746.0 437,745.8 453,745.8 469,747.0 485,748.0 501,748.8 517,759.0 533,759.0 549,759.1 565,761.7 581,754.0 597,756.0 613,761.7 629,757.8 645,757.8 661,752.5 677,748.0 693,750.5 709,751.0 725,751.0 741,752.0 757,752.0 773,752.0 789,748.0 805,736.0 821,748.8 837,746.8 853,755.8 869,754.0 885,755.8 901,737.7 917,737.7 933,736.7 949,739.7 965,739.7 981,737.7 997,748.0 1013,745.8 1029,745.8 1045,747.0 1061,749.0 1077,752.0 1093,752.0 1109,752.7 1125,752.7 1141,753.9 1157,748.8 1173,754.8 1189,763.0 1205,759.1 1221,759.1 1237,759.3 1253,759.7 1269,756.0 1285,750.0 1301,743.0 1317,742.8 1333,741.6 1349,741.6 1365,744.0 1381,757.8 1397,757.8 1413,757.8" fill="none" stroke="#1e90ff" stroke-width="2" shape-rendering="crispEdges"/></svg>
<text class="t" transform="translate(4.00 832.00) scale(0.934 1)">2 Jun 2023</text><text class="t" transform="translate(68.00 832.00) scale(0.934 1)">4 Jun 23:00</text><text class="t" transform="translate(132.00 832.00) scale(0.934 1)">5 Jun 12:00</text><text class="t" transform="translate(196.00 832.00) scale(0.934 1)">6 Jun 04:00</text><text class="t" transform="translate(260.00 832.00) scale(0.934 1)">6 Jun 20:00</text><text class="t" transform="translate(324.00 832.00) scale(0.934 1)">7 Jun 12:00</text><text class="t" transform="translate(388.00 832.00) scale(0.934 1)">8 Jun 04:00</text><text class="t" transform="translate(452.00 832.00) scale(0.934 1)">8 Jun 20:00</text><text class="t" transform="translate(516.00 832.00) scale(0.934 1)">9 Jun 12:00</text><text class="t" transform="translate(580.00 832.00) scale(0.934 1)">12 Jun 04:00</text><text class="t" transform="translate(644.00 832.00) scale(0.934 1)">12 Jun 20:00</text><text class="t" transform="translate(708.00 832.00) scale(0.934 1)">13 Jun 12:00</text><text class="t" transform="translate(772.00 832.00) scale(0.934 1)">14 Jun 04:00</text><text class="t" transform="translate(836.00 832.00) scale(0.934 1)">14 Jun 20:00</text><text class="t" transform="translate(900.00 832.00) scale(0.934 1)">15 Jun 12:00</text><text class="t" transform="translate(964.00 832.00) scale(0.934 1)">16 Jun 04:00</text><text class="t" transform="translate(1028.00 832.00) scale(0.934 1)">18 Jun 23:00</text><text class="t" transform="translate(1092.00 832.00) scale(0.934 1)">19 Jun 12:00</text><text class="t" transform="translate(1156.00 832.00) scale(0.934 1)">20 Jun 04:00</text><text class="t" transform="translate(1220.00 832.00) scale(0.934 1)">20 Jun 20:00</text><text class="t" transform="translate(1284.00 832.00) scale(0.934 1)">21 Jun 12:00</text><text class="t" transform="translate(1348.00 832.00) scale(0.934 1)">22 Jun 04:00</text><text class="t" transform="translate(1412.00 832.00) scale(0.934 1)">22 Jun 20:00</text>
<defs><pattern id="chk" width="2" height="2" patternUnits="userSpaceOnUse"><rect width="2" height="2" fill="#f4f4f4"/><rect width="1" height="1" fill="#fff"/><rect x="1" y="1" width="1" height="1" fill="#fff"/></pattern><linearGradient id="gplus" x1="0" y1="0" x2="0" y2="1"><stop offset="0" stop-color="#8dff9c"/><stop offset="1" stop-color="#00e82a"/></linearGradient><linearGradient id="gold" x1="0" y1="0" x2="1" y2="1"><stop offset="0" stop-color="#ffe680"/><stop offset="0.5" stop-color="#e8b818"/><stop offset="1" stop-color="#c89010"/></linearGradient><linearGradient id="cloud" x1="0" y1="0" x2="0" y2="1"><stop offset="0" stop-color="#ffffff"/><stop offset="1" stop-color="#b8c4dc"/></linearGradient><linearGradient id="clk" x1="0" y1="0" x2="1" y2="1"><stop offset="0" stop-color="#5ab8ff"/><stop offset="0.5" stop-color="#1470e0"/><stop offset="1" stop-color="#0048a8"/></linearGradient><radialGradient id="badge" cx="0.45" cy="0.35" r="0.7"><stop offset="0" stop-color="#f06040"/><stop offset="1" stop-color="#d82808"/></radialGradient></defs>
<g shape-rendering="crispEdges"><rect x="5" y="0" width="1" height="19" fill="#a0a0a0"/><rect x="6" y="0" width="1" height="19" fill="#fcfcfc"/><rect x="241" y="0" width="1" height="19" fill="#a0a0a0"/><rect x="242" y="0" width="1" height="19" fill="#fcfcfc"/><rect x="279" y="0" width="1" height="19" fill="#a0a0a0"/><rect x="280" y="0" width="1" height="19" fill="#fcfcfc"/><rect x="336" y="0" width="1" height="19" fill="#a0a0a0"/><rect x="337" y="0" width="1" height="19" fill="#fcfcfc"/><rect x="426" y="0" width="1" height="19" fill="#a0a0a0"/><rect x="427" y="0" width="1" height="19" fill="#fcfcfc"/><rect x="431" y="0" width="1" height="19" fill="#a0a0a0"/><rect x="432" y="0" width="1" height="19" fill="#fcfcfc"/><rect x="459" y="0" width="1" height="19" fill="#a0a0a0"/><rect x="460" y="0" width="1" height="19" fill="#fcfcfc"/><rect x="488" y="0" width="1" height="19" fill="#a0a0a0"/><rect x="489" y="0" width="1" height="19" fill="#fcfcfc"/><rect x="609" y="0" width="1" height="19" fill="#a0a0a0"/><rect x="610" y="0" width="1" height="19" fill="#fcfcfc"/><rect x="619" y="0" width="1" height="19" fill="#a0a0a0"/><rect x="620" y="0" width="1" height="19" fill="#fcfcfc"/><rect x="676" y="0" width="1" height="19" fill="#a0a0a0"/><rect x="677" y="0" width="1" height="19" fill="#fcfcfc"/><rect x="915" y="0" width="1" height="19" fill="#a0a0a0"/><rect x="916" y="0" width="1" height="19" fill="#fcfcfc"/><rect x="1176" y="0" width="1" height="19" fill="#a0a0a0"/><rect x="1177" y="0" width="1" height="19" fill="#fcfcfc"/><rect x="245" y="1" width="3" height="1" fill="#a8a8a8"/><rect x="245" y="3" width="3" height="1" fill="#a8a8a8"/><rect x="245" y="5" width="3" height="1" fill="#a8a8a8"/><rect x="245" y="7" width="3" height="1" fill="#a8a8a8"/><rect x="245" y="9" width="3" height="1" fill="#a8a8a8"/><rect x="245" y="11" width="3" height="1" fill="#a8a8a8"/><rect x="245" y="13" width="3" height="1" fill="#a8a8a8"/><rect x="245" y="15" width="3" height="1" fill="#a8a8a8"/><rect x="245" y="17" width="3" height="1" fill="#a8a8a8"/><rect x="613" y="1" width="3" height="1" fill="#a8a8a8"/><rect x="613" y="3" width="3" height="1" fill="#a8a8a8"/><rect x="613" y="5" width="3" height="1" fill="#a8a8a8"/><rect x="613" y="7" width="3" height="1" fill="#a8a8a8"/><rect x="613" y="9" width="3" height="1" fill="#a8a8a8"/><rect x="613" y="11" width="3" height="1" fill="#a8a8a8"/><rect x="613" y="13" width="3" height="1" fill="#a8a8a8"/><rect x="613" y="15" width="3" height="1" fill="#a8a8a8"/><rect x="613" y="17" width="3" height="1" fill="#a8a8a8"/><rect x="919" y="1" width="3" height="1" fill="#a8a8a8"/><rect x="919" y="3" width="3" height="1" fill="#a8a8a8"/><rect x="919" y="5" width="3" height="1" fill="#a8a8a8"/><rect x="919" y="7" width="3" height="1" fill="#a8a8a8"/><rect x="919" y="9" width="3" height="1" fill="#a8a8a8"/><rect x="919" y="11" width="3" height="1" fill="#a8a8a8"/><rect x="919" y="13" width="3" height="1" fill="#a8a8a8"/><rect x="919" y="15" width="3" height="1" fill="#a8a8a8"/><rect x="919" y="17" width="3" height="1" fill="#a8a8a8"/><rect x="280" y="0" width="24" height="19" fill="url(#chk)"/><rect x="279" y="0" width="1" height="19" fill="#a0a0a0"/><rect x="304" y="0" width="1" height="20" fill="#fff"/><rect x="279" y="19" width="26" height="1" fill="#fff"/><rect x="432" y="0" width="24" height="19" fill="url(#chk)"/><rect x="431" y="0" width="1" height="19" fill="#a0a0a0"/><rect x="456" y="0" width="1" height="20" fill="#fff"/><rect x="431" y="19" width="26" height="1" fill="#fff"/><rect x="460" y="0" width="24" height="19" fill="url(#chk)"/><rect x="459" y="0" width="1" height="19" fill="#a0a0a0"/><rect x="484" y="0" width="1" height="20" fill="#fff"/><rect x="459" y="19" width="26" height="1" fill="#fff"/><rect x="620" y="0" width="24" height="19" fill="url(#chk)"/><rect x="619" y="0" width="1" height="19" fill="#a0a0a0"/><rect x="644" y="0" width="1" height="20" fill="#fff"/><rect x="619" y="19" width="26" height="1" fill="#fff"/><rect x="1066" y="0" width="24" height="19" fill="url(#chk)"/><rect x="1065" y="0" width="1" height="19" fill="#a0a0a0"/><rect x="1090" y="0" width="1" height="20" fill="#fff"/><rect x="1065" y="19" width="26" height="1" fill="#fff"/></g>
<g><path d="M15.5,1.5 H23.5 L26.5,4.5 V14.5 H15.5 Z" fill="#fff" stroke="#6e6e6e"/><path d="M23.5,1.5 V4.5 H26.5" fill="none" stroke="#6e6e6e"/><rect x="17" y="3" width="3" height="2" fill="#7a7a7a"/><rect x="17" y="7" width="6" height="1" fill="#8a8a8a"/><rect x="17" y="9" width="5" height="1" fill="#8a8a8a"/><rect x="17" y="11" width="3" height="1" fill="#8a8a8a"/><path d="M23.5,7.5 h3 v4 h4 v3 h-4 v4 h-3 v-4 h-4 v-3 h4 z" fill="url(#gplus)" stroke="#008a10"/><path d="M88,2.5 L97.5,10 L90,16.5 L82.5,11 Q85,7 88,2.5 Z" fill="url(#gold)" stroke="#8a4a00" stroke-width="1.2"/><path d="M84,11.5 L90.5,15.5" stroke="#f8e8a0" stroke-width="1" fill="none"/><path d="M90,15.8 L96.8,10.2" stroke="#d8c890" stroke-width="1.2" fill="none"/><path d="M112,1.5 H122.5 V10 H112 Z" fill="#1c92f0" stroke="#1070d0"/><path d="M112.5,2 L116,4.5 V10" stroke="#e8f6ff" fill="none"/><rect x="117" y="5.5" width="4.5" height="1.2" fill="#d8f0ff"/><path d="M111.5,16.5 Q109.5,14 112.5,12.5 Q113.5,9.8 116.5,11 Q118.5,8.8 121,10.8 Q124.5,10 125.3,13 Q126.5,16 123.5,16.5 Z" fill="url(#cloud)" stroke="#3a5a98" stroke-width="1"/><circle cx="145.8" cy="8.9" r="7.3" fill="#eef2f0" stroke="#6a8ad8" stroke-width="1"/><circle cx="145.8" cy="8.9" r="4.6" fill="none" stroke="#9ab0d8" stroke-width="1"/><path d="M145.8,16.2 A7.3,7.3 0 0 0 153.1,8.9" stroke="#3aa040" stroke-width="1.2" fill="none"/><circle cx="145.8" cy="8.9" r="1.9" fill="#2a5ad0"/><rect x="146" y="9" width="1.2" height="7.5" fill="#20a020"/><path d="M165.5,8.5 L181,8.5 L172.5,16.5 Z" fill="#f8e060" stroke="#d0a020" stroke-width="0.8"/><ellipse cx="173.2" cy="6.2" rx="7.8" ry="2.6" fill="#5ab4e8" stroke="#1a7ab0" stroke-width="0.9"/><ellipse cx="173.2" cy="4.2" rx="3.8" ry="3" fill="#68c0f0" stroke="#1a7ab0" stroke-width="0.9"/><circle cx="177.6" cy="12.6" r="4.3" fill="#e02a10" stroke="#a01000" stroke-width="0.8"/><rect x="176.2" y="11.2" width="2.8" height="2.8" fill="#fff"/><path d="M259.5,3.5 V16.5 M257.0,14.5 H271.0" stroke="#555" stroke-width="1" fill="none"/><path d="M259.5,3 l-2,2.2 h4 z M271.5,14.5 l-2.2,-2 v4 z" fill="#555"/><path d="M265.5,4 V12.5 M263,11.5 H265.5 M265.5,5.5 H268.3" stroke="#008a00" stroke-width="1.2" fill="none"/><path d="M287.5,3.5 V16.5 M285.0,14.5 H299.0" stroke="#555" stroke-width="1" fill="none"/><path d="M287.5,3 l-2,2.2 h4 z M299.5,14.5 l-2.2,-2 v4 z" fill="#555"/><rect x="291.5" y="3.5" width="4.2" height="7.2" fill="#50f070" stroke="#009010"/><rect x="293.1" y="1" width="1" height="12" fill="#009010"/><rect x="291.5" y="3.5" width="4.2" height="7.2" fill="#40e060" stroke="#009010"/><path d="M315.5,3.5 V16.5 M313.0,14.5 H327.0" stroke="#555" stroke-width="1" fill="none"/><path d="M315.5,3 l-2,2.2 h4 z M327.5,14.5 l-2.2,-2 v4 z" fill="#555"/><path d="M314.3,11.7 Q317,7 320.3,6.3 Q322.5,6.3 324,8.7 Q325,10 326,10.3" stroke="#2a9a2a" stroke-width="1.1" fill="none"/><path d="M355.3,11.1 L359.7,15.3" stroke="#b08000" stroke-width="3.6" stroke-linecap="round"/><path d="M355.5,11.3 L359.5,15.1" stroke="#f0d040" stroke-width="2" stroke-linecap="round"/><circle cx="351.1" cy="6.9" r="5.4" fill="#dff2ff" stroke="#2a72c8" stroke-width="1.4"/><path d="M347.8,6.9 h6.6 M351.1,3.6 v6.6" stroke="#4a8ec0" stroke-width="2" fill="none"/><path d="M383.0,11.1 L387.4,15.3" stroke="#b08000" stroke-width="3.6" stroke-linecap="round"/><path d="M383.2,11.3 L387.2,15.1" stroke="#f0d040" stroke-width="2" stroke-linecap="round"/><circle cx="378.8" cy="6.9" r="5.4" fill="#dff2ff" stroke="#2a72c8" stroke-width="1.4"/><path d="M375.5,6.9 h6.6" stroke="#4a8ec0" stroke-width="2" fill="none"/><rect x="401" y="1" width="8" height="8" rx="1" fill="#3a9a10"/><rect x="402" y="4" width="6" height="4" fill="#fff"/><rect x="403" y="5" width="4" height="1" fill="#3a9a10" opacity="0.5"/><rect x="409" y="1" width="8" height="8" rx="1" fill="#1a4ed0"/><rect x="410" y="4" width="6" height="4" fill="#fff"/><rect x="411" y="5" width="4" height="1" fill="#1a4ed0" opacity="0.5"/><rect x="401" y="9" width="8" height="8" rx="1" fill="#1a4ed0"/><rect x="402" y="12" width="6" height="4" fill="#fff"/><rect x="403" y="13" width="4" height="1" fill="#1a4ed0" opacity="0.5"/><rect x="409" y="9" width="8" height="8" rx="1" fill="#3a9a10"/><rect x="410" y="12" width="6" height="4" fill="#fff"/><rect x="411" y="13" width="4" height="1" fill="#3a9a10" opacity="0.5"/><path d="M439.5,3.5 V16.5 M437.0,14.5 H451.0" stroke="#555" stroke-width="1" fill="none"/><path d="M439.5,3 l-2,2.2 h4 z M451.5,14.5 l-2.2,-2 v4 z" fill="#555"/><path d="M444.3,5.2 L447.8,8.5 L444.3,11.8 Z" fill="#60e070" stroke="#009010"/><path d="M467.5,3.5 V16.5 M465.0,14.5 H479.0" stroke="#555" stroke-width="1" fill="none"/><path d="M467.5,3 l-2,2.2 h4 z M479.5,14.5 l-2.2,-2 v4 z" fill="#555"/><rect x="473" y="3" width="1.2" height="9.5" fill="#1a6aa0"/><path d="M474.5,8.5 L477,6.5 V10.5 Z M476,8.5 H479" fill="#e85a10" stroke="#8a2a00" stroke-width="0.8"/><path d="M498.5,1.5 H506 L509.5,5 V14.5 H498.5 Z" fill="#fff" stroke="#6e6e6e"/><path d="M506,1.5 V5 H509.5" fill="none" stroke="#6e6e6e"/><path d="M503.5,4 Q501.5,4 501.5,6.5 V12" stroke="#333" stroke-width="1" fill="none"/><path d="M500.5,7.5 H503" stroke="#333" fill="none"/><path d="M506.5,7.5 h3 v4 h4 v3 h-4 v4 h-3 v-4 h-4 v-3 h4 z" fill="url(#gplus)" stroke="#008a10"/><path d="M520,8 h5.2 l-2.6,3 z" fill="#000"/><path d="M559,8 h5.2 l-2.6,3 z" fill="#000"/><path d="M598,8 h5.2 l-2.6,3 z" fill="#000"/><path d="M904,8 h5.2 l-2.6,3 z" fill="#000"/><circle cx="544" cy="8.8" r="6.5" fill="#f4f6f8" stroke="url(#clk)" stroke-width="3"/><circle cx="544" cy="8.8" r="8" fill="none" stroke="#0a3a90" stroke-width="0.5" opacity="0.7"/><path d="M543.5,5.2 V8.9 H546.8" stroke="#111" stroke-width="1.2" fill="none"/><rect x="543" y="11.5" width="2" height="0.8" fill="#5aa0f0"/><rect x="575.5" y="2.5" width="15" height="13" fill="#3a78c0" stroke="#2a66b0"/><rect x="576.5" y="5" width="13" height="4.8" fill="#fff"/><rect x="576.5" y="10.8" width="13" height="3.8" fill="#fff"/><rect x="577" y="3.2" width="5" height="0.8" fill="#a8d0ff"/><path d="M577,8.5 H579.5 L581,7.5 L583,6.5 L584.5,7.5 H586.5 L588,6.5" stroke="#a02810" stroke-width="0.9" fill="none"/><path d="M578,13.5 L580,12.5 L582,13.5 L584,12.5 L586,11.3 L588.5,13.5" stroke="#1a8a20" stroke-width="0.9" fill="none"/><path d="M627.3,1.8 V13 L629.8,10.6 L632,15.8 L633.8,15 L631.6,9.9 L635,9.6 Z" fill="#4a4a4a"/><path d="M659.5,2 V8 M659.5,11 V17 M652,9.5 H658 M661,9.5 H667" stroke="#3a3a3a" stroke-width="1.2" fill="none"/><path d="M693.5,3 V16 M716,9.5 H728 M744,15.6 L755.8,4" stroke="#4a4a4a" stroke-width="1.2" fill="none"/><path d="M769.8,10.6 L778,3 M770.8,14.8 L783.8,2.6 M775,15.8 L784.3,7.2" stroke="#555" stroke-width="1" fill="none"/><path d="M771.5,15.5 L773,8.5 M774.8,14 L776.3,7.5 M778.2,11 L779.6,4.5 M781.3,8 L781.8,1" stroke="#333" stroke-width="1.3" fill="none"/><text x="780.5" y="18" font-family="Liberation Sans,Arial,sans-serif" font-weight="bold" font-size="7px" fill="#333">E</text><rect x="799" y="2" width="1.2" height="1.2" fill="#444"/><rect x="801" y="2" width="1.2" height="1.2" fill="#444"/><rect x="803" y="2" width="1.2" height="1.2" fill="#444"/><rect x="805" y="2" width="1.2" height="1.2" fill="#444"/><rect x="807" y="2" width="1.2" height="1.2" fill="#444"/><rect x="809" y="2" width="1.2" height="1.2" fill="#444"/><rect x="811" y="2" width="1.2" height="1.2" fill="#444"/><rect x="799" y="5" width="1.2" height="1.2" fill="#444"/><rect x="801" y="5" width="1.2" height="1.2" fill="#444"/><rect x="803" y="5" width="1.2" height="1.2" fill="#444"/><rect x="805" y="5" width="1.2" height="1.2" fill="#444"/><rect x="807" y="5" width="1.2" height="1.2" fill="#444"/><rect x="809" y="5" width="1.2" height="1.2" fill="#444"/><rect x="811" y="5" width="1.2" height="1.2" fill="#444"/><rect x="799" y="9" width="1.2" height="1.2" fill="#444"/><rect x="801" y="9" width="1.2" height="1.2" fill="#444"/><rect x="803" y="9" width="1.2" height="1.2" fill="#444"/><rect x="805" y="9" width="1.2" height="1.2" fill="#444"/><rect x="807" y="9" width="1.2" height="1.2" fill="#444"/><rect x="809" y="9" width="1.2" height="1.2" fill="#444"/><rect x="811" y="9" width="1.2" height="1.2" fill="#444"/><rect x="799" y="13" width="1.2" height="1.2" fill="#444"/><rect x="801" y="13" width="1.2" height="1.2" fill="#444"/><rect x="803" y="13" width="1.2" height="1.2" fill="#444"/><rect x="805" y="13" width="1.2" height="1.2" fill="#444"/><rect x="807" y="13" width="1.2" height="1.2" fill="#444"/><text x="808.8" y="18" font-family="Liberation Sans,Arial,sans-serif" font-weight="bold" font-size="7px" fill="#333">F</text><text x="829.3" y="14" font-family="Liberation Sans,Arial,sans-serif" font-size="12.5px" font-weight="bold" fill="#4a4a4a">A</text><rect x="856.5" y="3.5" width="11" height="12" fill="none" stroke="#444" stroke-width="0.9" stroke-dasharray="1 1"/><rect x="855.6" y="2.2" width="1.6" height="1.6" fill="#444"/><path d="M858.3,6.3 H866 M862,6.3 V14" stroke="#555" stroke-width="1.5" fill="none"/><path d="M882.5,7 L886.5,2.6 L890.5,7 Z M889.8,12 L893.8,16.4 L897.8,12 Z" fill="#4a4a4a"/><path d="M885.2,10.2 L887.6,12.4 L891.6,7.3" stroke="#4a4a4a" stroke-width="1.2" fill="none"/></g>
<text class="cj" x="33.6" y="12.4">新订单</text>
<text class="cj" x="186.6" y="12.4">自动交易</text>
<text class="tf" x="937.0" y="13" text-anchor="middle">M1</text>
<text class="tf" x="964.6" y="13" text-anchor="middle">M5</text>
<text class="tf" x="993.6" y="13" text-anchor="middle">M15</text>
<text class="tf" x="1021.5" y="13" text-anchor="middle">M30</text>
<text class="tf" x="1049.5" y="13" text-anchor="middle">H1</text>
<text class="tf" x="1076.8" y="13" text-anchor="middle">H4</text>
<text class="tf" x="1105.5" y="13" text-anchor="middle">D1</text>
<text class="tf" x="1134.2" y="13" text-anchor="middle">W1</text>
<text class="tf" x="1161.0" y="13" text-anchor="middle">MN</text>
<circle cx="1646.5" cy="6.2" r="3.9" fill="#fff" stroke="#2a5ad0" stroke-width="1.3"/><path d="M1643.6,9.2 L1639.6,13.3" stroke="#2a5ad0" stroke-width="2.2" stroke-linecap="round"/>
<path d="M1666,15.5 Q1663,14.5 1663,11 Q1663,6.5 1669,6.5 Q1675,6.5 1675,11 Q1675,15 1669,15 L1666.5,17.3 Z" fill="#e4e6f0" stroke="#9a9a9a" stroke-width="0.9"/>
<circle cx="1677.5" cy="6.3" r="8.3" fill="url(#badge)"/><text x="1677.3" y="10.6" text-anchor="middle" font-family="Liberation Serif,serif" font-weight="bold" font-size="12px" fill="#fff">1</text>
</svg></body></html>
